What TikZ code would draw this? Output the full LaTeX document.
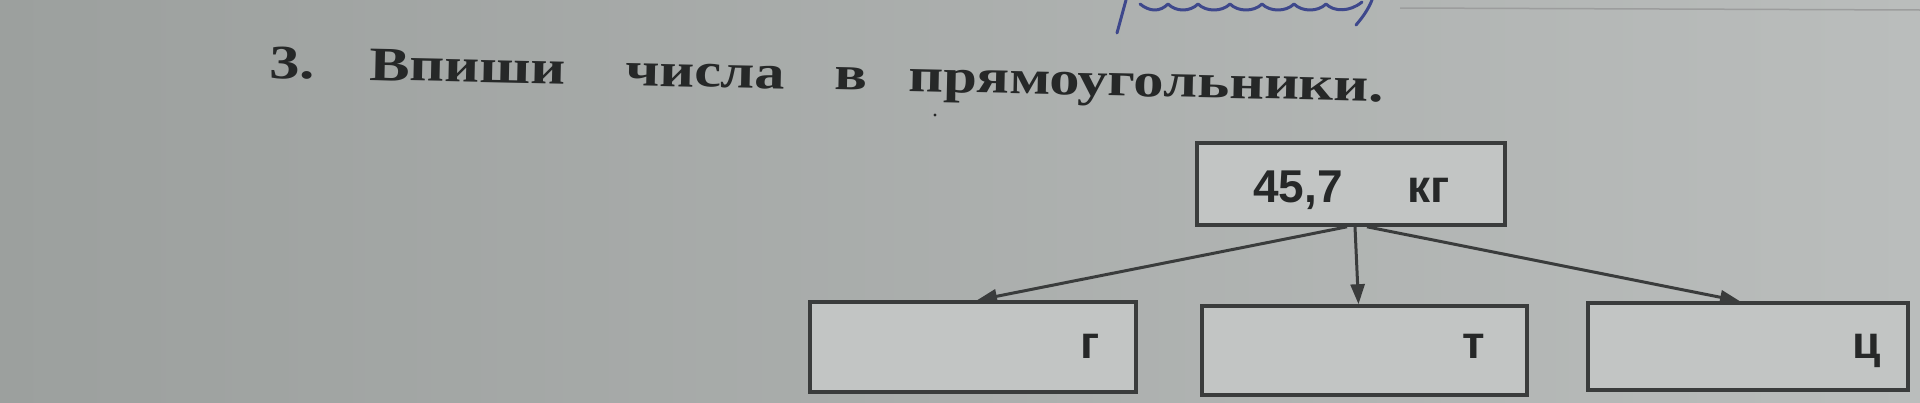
\documentclass[tikz,border=0pt]{standalone}
\usepackage{fontspec}
\usetikzlibrary{arrows.meta}
\newfontfamily\titlefont[FakeStretch=1.26]{Liberation Serif Bold}
\newfontfamily\lblfont{Liberation Sans Bold}
\definecolor{paperL}{RGB}{156,160,158}
\definecolor{paperR}{RGB}{186,189,188}
\definecolor{boxfill}{RGB}{194,197,196}
\definecolor{ink}{RGB}{38,40,40}
\definecolor{lineink}{RGB}{58,60,60}
\definecolor{pen}{RGB}{62,72,140}
\tikzset{
  x=1pt, y=-1pt,
  titleword/.style={font=\titlefont\fontsize{48}{50}\selectfont, text=ink, anchor=base west, inner sep=0pt, rotate=-1.2},
  valbox/.style={draw=lineink, line width=3.6pt, fill=boxfill, inner sep=0pt},
  lbl/.style={font=\lblfont\fontsize{46}{48}\selectfont, text=ink, anchor=base west, inner sep=0pt},
  conn/.style={draw=lineink, line width=3pt, -{Triangle[length=20pt,width=14pt]}},
  scribble/.style={draw=pen, line width=3pt, line cap=round, line join=round}
}
\begin{document}
\begin{tikzpicture}
\useasboundingbox (0,0) rectangle (1920,402);
\shade[left color=paperL, right color=paperR] (0,0) rectangle (1920,402);
% pen marks at top
\draw[scribble] (1126,0) -- (1117,33);
\draw[scribble] (1140,4) .. controls (1150,12) and (1160,12) .. (1168,4)
  .. controls (1176,12) and (1190,12) .. (1198,4)
  .. controls (1206,12) and (1222,12) .. (1230,4)
  .. controls (1238,12) and (1254,12) .. (1262,4)
  .. controls (1270,12) and (1286,12) .. (1294,4)
  .. controls (1302,12) and (1318,12) .. (1326,4)
  .. controls (1334,12) and (1350,12) .. (1362,2);
\draw[scribble] (1372,0) .. controls (1368,10) and (1362,18) .. (1356,25);
\draw[draw=lineink!50, line width=1.5pt] (1400,8) -- (1920,10);
% title
\node[titleword] (t0) at (269,78) {3.};
\node[titleword] (t1) at (369,80) {Впиши};
\node[titleword] (t2) at (625,85.5) {числа};
\node[titleword] (t3) at (834,89.5) {в};
\node[titleword] (t4) at (908,91.5) {прямоугольники.};
\fill[ink] (935,115) circle (1.6);
% boxes
\node[valbox, minimum width=308pt, minimum height=82pt] (top) at (1351,184) {};
\node[valbox, minimum width=326pt, minimum height=90pt] (b1) at (973,347) {};
\node[valbox, minimum width=325pt, minimum height=89pt] (b2) at (1364.5,350.5) {};
\node[valbox, minimum width=320pt, minimum height=87pt] (b3) at (1748,346.5) {};
% labels
\node[lbl] (val) at (1253,202) {45,7};
\node[lbl] (unit) at (1407,202) {кг};
\node[lbl] (u1) at (1080,358) {г};
\node[lbl] (u2) at (1462,358) {т};
\node[lbl] (u3) at (1852,358) {ц};
% connectors
\draw[conn] ([xshift=-4pt]top.south) -- ([xshift=4pt]b1.north);
\draw[conn] ([xshift=4pt]top.south) -- ([xshift=-6pt]b2.north);
\draw[conn] ([xshift=16pt]top.south) -- ([xshift=-8pt]b3.north);
\end{tikzpicture}
\end{document}
